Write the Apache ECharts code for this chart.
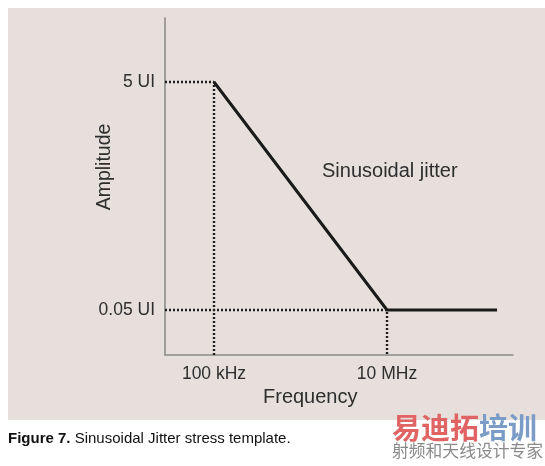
<!DOCTYPE html>
<html>
<head>
<meta charset="utf-8">
<script src="https://cdn.jsdelivr.net/npm/echarts@6/dist/echarts.min.js"></script>
<style>
html,body{margin:0;padding:0;background:#ffffff;}
#chart{width:545px;height:466px;}
</style>
</head>
<body>
<div id="chart"></div>
<script>
// Data
var freqHz = [1e5, 1e7, 1.87e8];          // template corner points (Hz)
var amplitudeUI = [5, 0.05, 0.05];        // jitter amplitude (UI)
var xTickValues = [1e5, 1e7];
var xTickLabels = ['100 kHz', '10 MHz'];
var yTickValues = [0.05, 5];
var yTickLabels = ['0.05 UI', '5 UI'];
var xRange = [27140, 2.86e8];
var yRange = [0.02014, 18.2];

var FONT = '"Liberation Sans", Arial, Helvetica, sans-serif';

var chart = echarts.init(document.getElementById('chart'), null, {renderer: 'canvas'});

var guide1 = [[xRange[0], amplitudeUI[0]], [freqHz[0], amplitudeUI[0]], [freqHz[0], yRange[0]]];
var guide2 = [[xRange[0], amplitudeUI[1]], [freqHz[1], amplitudeUI[1]], [freqHz[1], yRange[0]]];
var mainLine = freqHz.map(function (f, i) { return [f, amplitudeUI[i]]; });

function labelFor(values, labels) {
  return function (v) {
    for (var i = 0; i < values.length; i++) {
      if (Math.abs(Math.log10(v) - Math.log10(values[i])) < 1e-6) return labels[i];
    }
    return '';
  };
}

var option = {
  backgroundColor: '#ffffff',
  animation: false,
  grid: {left: 165, right: 32, top: 18, bottom: 111, containLabel: false},
  xAxis: {
    type: 'log',
    min: xRange[0],
    max: xRange[1],
    axisLine: {show: true, lineStyle: {color: '#8c8c8c', width: 1.6}},
    axisTick: {show: false},
    splitLine: {show: false},
    axisLabel: {
      customValues: xTickValues,
      formatter: labelFor(xTickValues, xTickLabels),
      color: '#2e2e2e', fontSize: 17.5, fontFamily: FONT, margin: 10
    }
  },
  yAxis: {
    type: 'log',
    min: yRange[0],
    max: yRange[1],
    axisLine: {show: true, lineStyle: {color: '#8c8c8c', width: 1.6}},
    axisTick: {show: false},
    splitLine: {show: false},
    axisLabel: {
      customValues: yTickValues,
      formatter: labelFor(yTickValues, yTickLabels),
      color: '#2e2e2e', fontSize: 17.5, fontFamily: FONT, margin: 10
    }
  },
  series: [
    {
      type: 'line', data: guide1, symbol: 'none', silent: true,
      lineStyle: {color: '#1e1e1e', width: 2.4, type: [2, 2]}
    },
    {
      type: 'line', data: guide2, symbol: 'none', silent: true,
      lineStyle: {color: '#1e1e1e', width: 2.4, type: [2, 2]}
    },
    {
      type: 'line', data: mainLine, symbol: 'none', silent: true, z: 5,
      lineStyle: {color: '#1a1a1a', width: 3}
    }
  ],
  graphic: [
    {
      type: 'rect', z: -10, silent: true,
      shape: {x: 8, y: 8, width: 537, height: 412},
      style: {fill: '#e6dfdb'}
    },
    {
      type: 'text', left: 322, top: 161,
      style: {text: 'Sinusoidal jitter', fill: '#2e2e2e', font: '20px ' + FONT}
    },
    {
      type: 'text', left: 263, top: 387,
      style: {text: 'Frequency', fill: '#2e2e2e', font: '20px ' + FONT}
    },
    {
      type: 'text', x: 105, y: 167, rotation: Math.PI / 2,
      style: {text: 'Amplitude', fill: '#2e2e2e', font: '19.5px ' + FONT, align: 'center', verticalAlign: 'middle'}
    },
    {
      type: 'text', x: 8, y: 439,
      style: {
        text: '{b|Figure 7.} Sinusoidal Jitter stress template.',
        verticalAlign: 'middle',
        fill: '#111111',
        font: '15px ' + FONT,
        rich: {b: {fontWeight: 'bold', fontSize: 15, fontFamily: FONT, fill: '#111111'}}
      }
    },
    {
      type: 'text', x: 392, y: 428,
      style: {
        text: '{r|易迪拓}{bl|培训}',
        verticalAlign: 'middle',
        rich: {
          r: {fontSize: 29, fontWeight: 'bold', fontFamily: '"Noto Sans CJK SC"', fill: '#e06464'},
          bl: {fontSize: 29, fontWeight: 'bold', fontFamily: '"Noto Sans CJK SC"', fill: '#7c9cc8'}
        }
      }
    },
    {
      type: 'text', x: 392, y: 451,
      style: {text: '射频和天线设计专家', verticalAlign: 'middle', fill: '#8a8a8a', font: '16.8px "Noto Sans CJK SC"'}
    }
  ]
};
chart.setOption(option);
</script>
</body>
</html>
